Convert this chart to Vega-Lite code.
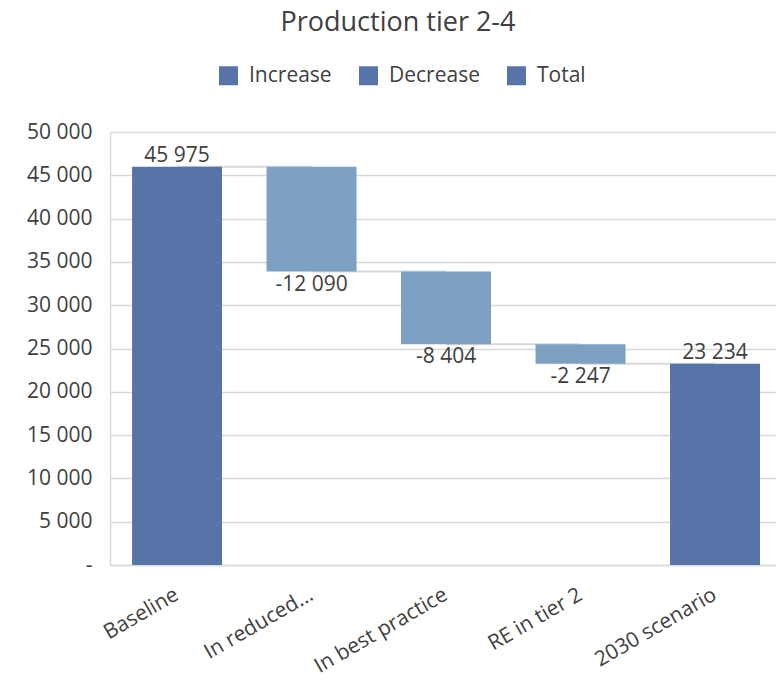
{
  "$schema": "https://vega.github.io/schema/vega-lite/v6.json",
  "width": 666,
  "height": 433,
  "autosize": {"type": "none"},
  "padding": {"left": 110, "top": 132, "right": 0, "bottom": 121},
  "background": "white",
  "title": {
    "text": "Production tier 2-4",
    "fontSize": 27,
    "font": "Open Sans",
    "fontWeight": "normal",
    "color": "#404040",
    "anchor": "middle",
    "frame": "group",
    "dx": -45,
    "offset": 28
  },
  "config": {
    "locale": {
      "number": {"decimal": ",", "thousands": " ", "grouping": [3], "currency": ["", ""], "minus": "-"}
    },
    "font": "Open Sans",
    "view": {"stroke": null}
  },
  "data": {
    "values": [
      {"category": "Baseline", "type": "Total", "value": 45975, "start": 0, "end": 45975, "next": "In reduced..."},
      {"category": "In reduced...", "type": "Decrease", "value": -12090, "start": 45975, "end": 33885, "next": "In best practice"},
      {"category": "In best practice", "type": "Decrease", "value": -8404, "start": 33885, "end": 25481, "next": "RE in tier 2"},
      {"category": "RE in tier 2", "type": "Decrease", "value": -2247, "start": 25481, "end": 23234, "next": "2030 scenario"},
      {"category": "2030 scenario", "type": "Total", "value": 23234, "start": 0, "end": 23234, "next": null}
    ]
  },
  "encoding": {
    "x": {
      "field": "category",
      "type": "nominal",
      "sort": null,
      "scale": {"paddingInner": 0.331, "paddingOuter": 0.1414, "align": 0.58},
      "axis": {
        "title": null,
        "labelAngle": -30,
        "labelAlign": "right",
        "labelBaseline": "middle",
        "labelFontSize": 21,
        "labelColor": "#404040",
        "labelPadding": 28,
        "ticks": false,
        "domainColor": "#d9d9d9",
        "domainWidth": 1.5,
        "grid": false
      }
    }
  },
  "layer": [
    {
      "transform": [{"filter": "datum.next != null"}],
      "mark": {"type": "rule", "color": "#d9d9d9", "strokeWidth": 2},
      "encoding": {
        "x2": {"field": "next"},
        "y": {"field": "end", "type": "quantitative"}
      }
    },
    {
      "mark": {"type": "bar"},
      "encoding": {
        "y": {
          "field": "start",
          "type": "quantitative",
          "scale": {"domain": [0, 50000], "nice": false},
          "axis": {
            "title": null,
            "values": [0, 5000, 10000, 15000, 20000, 25000, 30000, 35000, 40000, 45000, 50000],
            "format": ",d",
            "labelExpr": "datum.value == 0 ? '-' : datum.label",
            "labelFontSize": 21,
            "labelColor": "#404040",
            "labelPadding": 18,
            "ticks": false,
            "domainColor": "#d9d9d9",
            "domainWidth": 1.5,
            "gridColor": "#d9d9d9",
            "gridWidth": 1.5
          }
        },
        "y2": {"field": "end"},
        "color": {
          "field": "type",
          "type": "nominal",
          "condition": {"test": "datum.type == 'Decrease'", "value": "#7da1c3"},
          "scale": {"domain": ["Increase", "Decrease", "Total"], "range": ["#5774a9", "#5774a9", "#5774a9"]},
          "legend": {
            "title": null,
            "orient": "none",
            "direction": "horizontal",
            "legendX": 108,
            "legendY": -67,
            "symbolType": "square",
            "symbolSize": 361,
            "symbolStrokeWidth": 0,
            "labelFontSize": 21,
            "labelColor": "#404040",
            "labelOffset": 10,
            "columnPadding": 26
          }
        }
      }
    },
    {
      "transform": [{"filter": "datum.type == 'Total'"}],
      "mark": {"type": "text", "baseline": "bottom", "dy": -1, "fontSize": 21, "color": "#404040"},
      "encoding": {
        "y": {"field": "end", "type": "quantitative"},
        "text": {"field": "value", "type": "quantitative", "format": ",d"}
      }
    },
    {
      "transform": [{"filter": "datum.type == 'Decrease'"}],
      "mark": {"type": "text", "baseline": "top", "dy": 2, "fontSize": 21, "color": "#404040"},
      "encoding": {
        "y": {"field": "end", "type": "quantitative"},
        "text": {"field": "value", "type": "quantitative", "format": ",d"}
      }
    }
  ]
}
